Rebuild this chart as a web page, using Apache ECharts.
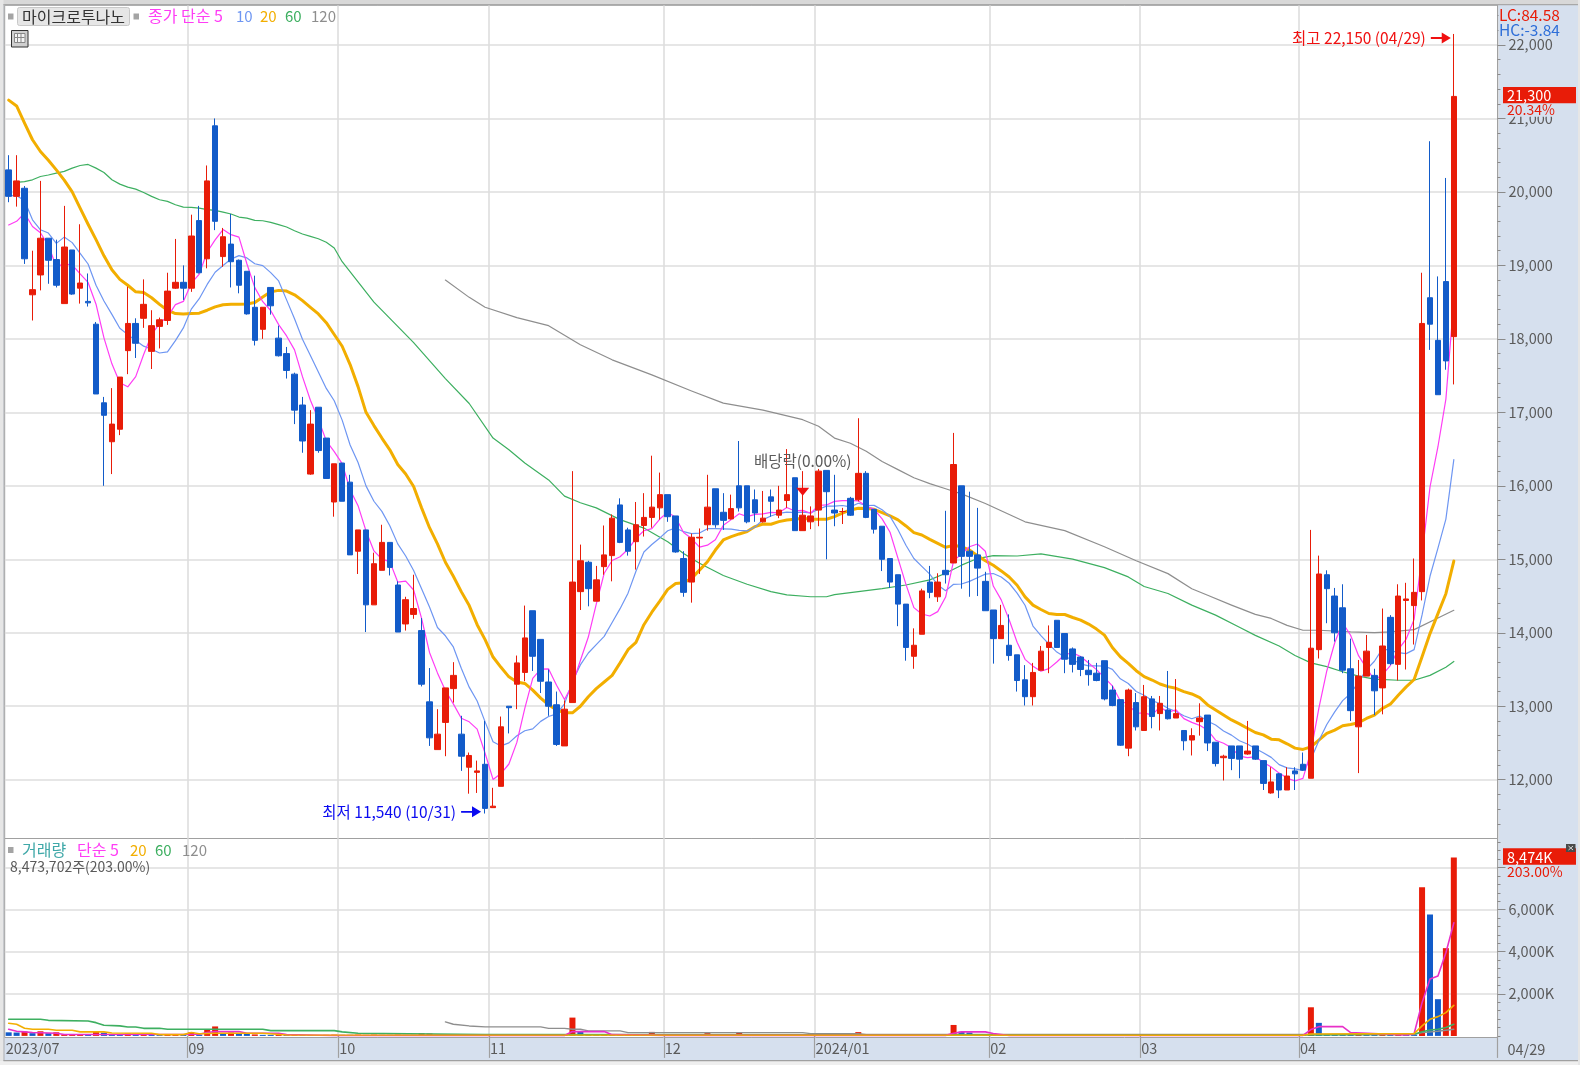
<!DOCTYPE html>
<html><head><meta charset="utf-8">
<style>html,body{margin:0;padding:0;background:#fff}#c{width:1580px;height:1065px}</style>
<script src="https://cdn.jsdelivr.net/npm/echarts@6/dist/echarts.min.js"></script>
</head><body><div id="c"></div>
<script>
const opens=[20300,19940,20050,18600,18870,19370,19080,18480,19210,18690,18510,18200,17130,16600,16770,17840,18210,18280,17830,18170,18250,18690,18770,18690,19610,19090,20900,19120,19290,19070,18920,18430,18130,18700,18010,17800,17520,17100,16160,17070,16650,15780,16310,16050,15110,15400,14380,14850,15230,14650,14120,14250,14030,13060,12410,12780,13240,12620,12170,12100,12210,11620,11910,13000,13300,13460,14300,13910,13330,13020,12460,13050,14560,14960,14430,14900,15050,15740,15400,15240,15460,15570,15700,15880,15590,15010,14690,15290,15470,15960,15640,15550,16000,16000,15810,15510,15850,15600,15800,16110,15390,15510,15670,16210,15670,15650,15830,15810,16170,15680,15450,15010,14790,14390,13680,13980,14690,14490,14850,14950,16000,15110,15060,14700,14310,13920,13830,13700,13360,13130,13490,13800,14170,13990,13780,13670,13490,13450,13620,13220,13090,12430,13050,12670,13100,12900,12950,12840,12670,12540,12790,12880,12510,12300,12460,12460,12350,12460,12260,11820,12080,11860,12120,12210,12020,13770,14790,14500,14340,13510,12720,13410,13420,13250,14210,13570,14440,14370,14560,18560,17980,18780,18030];
const closes=[19940,20150,19090,18670,19370,19070,18730,19250,18610,18760,18490,17250,16960,16840,17480,18210,17940,18470,18180,18260,18650,18770,18690,19400,18900,20150,19600,19390,19050,18730,18340,17980,18430,18450,17770,17570,17030,16610,16840,16480,16100,16300,15790,15060,15400,14380,14940,15230,14890,14010,14450,14330,13300,12570,12620,13250,13420,12320,12330,12120,11610,11640,12720,12980,13590,13930,13680,13340,13000,12480,12960,14690,14980,14600,14720,15060,15560,15230,15110,15470,15570,15710,15880,15580,15100,14550,15300,15300,15710,15470,15530,15690,15700,15510,15630,15560,15790,15670,15880,15390,15600,15590,16200,15920,15630,15650,15600,16170,15570,15410,15000,14690,14390,13800,13830,14570,14550,14690,14790,16290,15040,15040,14880,14300,13920,14100,13690,13350,13130,13460,13750,13870,13800,13640,13570,13500,13430,13350,13100,13010,12470,13220,12720,13130,12860,13040,12830,12900,12530,12600,12840,12500,12220,12320,12290,12280,12390,12280,11950,11970,11860,12050,12080,12130,13790,14800,14600,14000,13490,12940,13410,13750,13210,13820,13580,14500,14460,14550,18210,18200,17240,17700,21300];
const lows=[19860,19800,19020,18250,18660,18750,18700,18480,18600,18480,18440,17250,16000,16160,16690,17520,17740,18150,17590,17870,18190,18680,18530,18640,18890,18960,19480,18980,18700,18620,18330,17910,18000,18330,17760,17460,16840,16450,16150,16450,16100,15580,15790,15060,14800,14010,14380,14850,14780,14010,14030,14190,13270,12460,12410,12320,13050,12120,11810,11820,11540,11620,11910,12630,12960,13340,13480,13180,12870,12460,12460,13050,14310,14360,14430,14790,14700,15220,15050,14860,15310,15430,15540,15510,15090,14490,14410,14800,15390,15430,15400,15540,15650,15490,15510,15500,15580,15560,15700,15390,15390,15410,15450,15000,15450,15480,15590,15790,15560,15350,14840,14610,14090,13620,13510,13980,14470,14420,14670,14950,14600,14490,14500,14300,13580,13920,13620,13200,13010,13010,13490,13450,13800,13450,13460,13410,13280,13340,13080,13000,12460,12320,12670,12670,12700,12670,12820,12840,12400,12330,12600,12390,12180,11990,12130,12020,12340,12270,11860,11810,11750,11860,11860,12120,12020,13650,14130,13880,13450,12800,12090,13410,12880,12890,13560,13350,13500,13840,14440,17850,17240,17580,17380];
const highs=[20500,20500,20080,19200,20150,19370,19350,19810,19210,19560,18890,18230,17210,17330,17480,18710,18280,18810,18390,18290,18900,19360,19000,19690,19810,20360,21000,19510,19700,19080,18920,18860,18430,18700,18180,17890,17540,17210,17030,17070,16650,16300,16310,16150,15400,15400,15090,15470,15230,14700,14490,14790,14200,13520,12960,13250,13600,12870,12370,12260,12800,11890,12860,13000,13690,14370,14300,13910,13500,13200,13080,16200,15200,14980,14910,15460,15610,15830,15430,15780,15900,16410,16180,15880,15590,15110,15350,15420,16150,15960,15900,15880,16610,16000,15950,15930,15950,16000,16500,16110,16200,15720,16230,16210,16150,15700,15850,16920,16200,15680,15450,15010,14790,14390,14060,14600,14910,14810,15660,16720,16000,15920,15700,14830,14310,14380,14250,13700,13560,13590,13820,14100,14170,13990,13800,13680,13630,13590,13620,13280,13090,13240,13180,13290,13140,13140,13480,13370,12670,12700,13040,12880,12510,12340,12460,12460,12800,12460,12260,12170,12090,12170,12170,12370,15400,15050,14850,14610,14660,13920,13630,13970,13510,14330,14240,14660,14680,15010,18900,20690,18850,20190,22150];

const ma5=[19550,19600,19710,19530,19444,19270,18986,19018,19006,18884,18768,18472,18014,17660,17404,17348,17486,17788,18056,18212,18300,18466,18510,18754,18882,19182,19348,19488,19418,19384,19022,18698,18506,18386,18194,18040,17850,17486,17164,16906,16612,16466,16302,15946,15730,15386,15114,15002,14968,14690,14704,14582,14196,13732,13454,13214,13032,12836,12788,12688,12360,12004,12084,12214,12508,12972,13380,13504,13508,13286,13092,13294,13622,13942,14390,14810,14984,15034,15136,15286,15388,15418,15548,15642,15568,15364,15282,15166,15192,15266,15462,15540,15620,15580,15612,15618,15638,15632,15706,15658,15666,15626,15732,15740,15788,15798,15800,15794,15724,15680,15550,15368,15012,14658,14342,14256,14228,14288,14486,14978,15072,15170,15208,15110,14636,14448,14178,13872,13638,13546,13476,13512,13602,13704,13726,13676,13588,13498,13390,13278,13072,13030,12904,12910,12880,12994,12916,12952,12832,12780,12740,12674,12538,12496,12434,12322,12300,12312,12238,12174,12090,12022,11982,12018,12382,12970,13480,13864,14136,13966,13688,13518,13360,13426,13554,13772,13914,14182,15060,15984,16532,17180,18530];
const ma10=[19950,19950,19880,19620,19485,19440,19300,19385,19310,19164,19019,18729,18516,18333,18144,18058,17979,17901,17858,17808,17824,17976,18149,18405,18547,18741,18907,18999,19086,19133,19102,19023,18997,18902,18789,18531,18274,17996,17775,17550,17326,17158,16894,16555,16318,15999,15790,15652,15457,15210,15045,14848,14599,14350,14072,13959,13807,13516,13260,13071,12787,12518,12460,12501,12598,12666,12692,12794,12861,12897,13032,13337,13563,13725,13838,13951,14139,14328,14539,14838,15099,15201,15291,15389,15427,15376,15350,15357,15417,15417,15413,15411,15393,15386,15439,15540,15589,15626,15643,15635,15642,15632,15682,15723,15723,15732,15713,15763,15732,15734,15674,15584,15403,15191,15011,14903,14798,14650,14572,14660,14664,14699,14748,14798,14807,14760,14674,14540,14374,14091,13962,13845,13737,13671,13636,13576,13550,13550,13547,13502,13374,13309,13201,13150,13079,13033,12973,12928,12871,12830,12867,12795,12745,12664,12607,12531,12487,12425,12367,12304,12206,12161,12147,12128,12278,12530,12751,12923,13077,13174,13329,13499,13612,13781,13760,13730,13716,13771,14243,14769,15152,15547,16356];
const ma20=[21250,21170,20935,20710,20550,20430,20300,20160,20000,19780,19560,19350,19130,18940,18810,18730,18640,18630,18560,18470,18390,18345,18340,18345,18350,18390,18435,18465,18470,18470,18475,18494,18570,18640,18660,18650,18600,18520,18430,18340,18220,18060,17900,17650,17350,17000,16820,16650,16490,16290,16160,15990,15700,15430,15210,14960,14770,14560,14370,14110,13907,13670,13530,13400,13330,13310,13220,13110,13020,12950,12910,12910,13000,13130,13240,13330,13420,13590,13770,13870,14110,14280,14430,14590,14671,14680,14740,14853,14967,15126,15263,15308,15345,15377,15445,15481,15477,15513,15536,15545,15559,15545,15545,15545,15581,15627,15672,15695,15690,15680,15636,15590,15536,15454,15363,15331,15272,15217,15163,15190,15172,15126,15050,14981,14918,14842,14760,14647,14489,14376,14317,14262,14249,14249,14208,14172,14118,14050,13968,13800,13674,13584,13484,13403,13357,13303,13267,13244,13199,13167,13118,13018,12950,12882,12814,12760,12701,12642,12611,12552,12543,12489,12430,12412,12448,12539,12630,12675,12734,12752,12775,12834,12879,12969,13028,13150,13264,13364,13672,13989,14260,14532,14976];
const ma60Days=[1,2,3,4,5,6,7,8,9,10,11,12,13,14,15,16,17,18,19,20,21,22,23,24,25,26,27,28,29,30,31,32,33,34,35,36,37,38,39,40,41,42,46,51,55,58,61,63,65,68,70,72,74,77,80,83,85,87,90,93,96,98,101,103,104,107,110,113,116,118,120,122,124,127,130,134,138,141,143,146,149,152,155,157,160,162,164,166,168,170,172,175,177,179,181,182];
const ma60=[20130,20140,20165,20210,20230,20256,20280,20324,20360,20374,20324,20265,20165,20106,20066,20038,19993,19939,19893,19871,19825,19794,19790,19780,19758,19749,19726,19699,19658,19644,19613,19608,19585,19554,19522,19472,19427,19395,19363,19314,19237,19050,18500,17950,17460,17120,16650,16490,16310,16080,15860,15770,15700,15540,15425,15240,15080,14945,14780,14660,14560,14515,14490,14490,14520,14560,14600,14650,14720,14810,14920,15010,15050,15045,15075,15003,14887,14760,14630,14534,14376,14240,14075,13965,13820,13690,13590,13540,13470,13410,13370,13354,13354,13420,13530,13610];
const ma120Days=[55,58,60,64,68,72,76,81,86,90,95,100,102,104,106,108,110,112,114,116,118,120,123,128,133,138,142,146,149,151,154,157,159,161,163,165,169,172,174,177,180,182];
const ma120=[18800,18565,18430,18290,18180,17920,17715,17510,17290,17125,17030,16900,16810,16650,16580,16470,16330,16220,16110,16030,15960,15890,15760,15510,15390,15170,14980,14805,14600,14510,14376,14250,14195,14100,14034,14034,14011,14002,14011,14043,14200,14306];

const volumes=[170,160,210,130,220,130,170,70,70,70,60,190,150,80,80,110,80,90,60,40,60,60,50,170,60,300,450,130,160,130,130,70,50,50,70,50,60,40,40,40,50,60,50,50,60,50,60,50,50,60,50,50,120,110,50,60,50,50,60,50,60,50,60,50,60,60,50,50,60,50,60,870,190,60,50,70,50,50,60,60,60,190,60,50,60,60,50,60,130,60,70,50,150,50,60,60,60,60,60,50,50,50,60,60,60,50,60,180,60,50,60,50,50,60,50,60,50,60,50,520,200,160,60,50,60,50,60,50,60,50,60,50,60,50,60,50,60,50,60,50,60,50,60,50,60,50,60,50,60,50,60,50,60,50,60,50,60,50,60,50,60,50,60,50,1360,620,70,60,60,60,70,60,60,70,60,70,60,60,7070,5770,1745,4170,8474];
const volDirection="BBRBRBRRRR"+"BRBBBRBRBB"+"RRBRBRRBRB"+"BRBBRBRBBB"+"RRBBRBRBBR"+"BBRRBRBBRB"+"RBRBRRBBRB"+"RRBBBRBBRR"+"RRBBRRBRRB"+"RBRBRRRRRB"+"BBRRRBRRBB"+"RBBRBRBRBR"+"BBBBRBRBRB"+"RBRBRBRBRB"+"RBRBRBRBRB"+"RBRBRBRBRB"+"RBRBRBBBBB"+"RBBRBRBBRB"+"BRR";
const volMa5Days=[0,1,2,3,6,7,24,25,26,29,30,34,35,41,70,71,75,76,83,118,119,120,123,124,125,126,163,164,165,168,169,176,177,178,179,180,181,182];
const volMa5=[316,220,190,160,125,65,80,160,205,205,125,125,60,20,20,205,205,60,25,25,130,190,190,110,63,20,20,300,440,440,158,40,100,1580,2700,2844,3950,5372];
const volMa20Days=[0,1,2,3,5,6,8,9,12,13,18,19,22,23,24,26,32,35,163,164,177,178,179,180,181,182];
const volMa20=[600,550,360,316,316,270,270,190,190,140,125,60,60,160,100,125,125,40,30,90,110,474,790,916,1106,1454];
const volMa60Days=[0,4,5,10,11,12,14,15,16,17,19,20,32,33,41,42,44,60,163,177,178,179,180,181,182];
const volMa60=[790,790,740,710,630,505,475,425,425,360,360,316,316,250,250,190,125,60,45,80,200,284,316,395,553];
const volMa120Days=[55,56,58,60,67,68,70,71,72,73,77,78,100,101,107,108,163,177,178,180,182];
const volMa120=[665,553,474,430,430,360,360,316,316,237,237,158,158,110,110,70,70,70,158,221,316];

const monthDays=[0,23,42,61,83,102,124,143,163];
const monthLabels=['2023/07','09','10','11','12','2024/01','02','03','04'];
const slots=Array.from({length:188},(_,i)=>'d'+i);
const priceMajor=[12000,13000,14000,15000,16000,17000,18000,19000,20000,21000,22000];
const priceMinor=[11400,11600,11800,12200,12400,12600,12800,13200,13400,13600,13800,14200,14400,14600,14800,15200,15400,15600,15800,16200,16400,16600,16800,17200,17400,17600,17800,18200,18400,18600,18800,19200,19400,19600,19800,20200,20400,20600,20800,21200,21400,21600,21800,22200,22400];
const volMajor=[2000,4000,6000,8000];
const volLabeled=[2000,4000,6000];
const volMinor=[0,400,800,1200,1600,2400,2800,3200,3600,4400,4800,5200,5600,6400,6800,7200,7600,8400,8800,9200];

const FONT='"Noto Sans CJK KR","Noto Sans",sans-serif';
const RED='#E81C08',BLUE='#125BC9',STRIP='#D6E0EE',GRID='#DEDEDE',TXT='#5A5A5A',EDGE='#A0A0A0';
const C5='#FF3CF5',C10='#6E96F2',C20='#F2AE00',C60='#3DAF60',C120='#8E8E8E';
const isMonth=i=>monthDays.indexOf(i)>0;
const pair=(d,v)=>d.map((x,i)=>[x,v[i]]);
const seq=v=>v.map((y,i)=>[i,y]);
const line=(name,data,color,w,g)=>({name,type:'line',data,xAxisIndex:g,yAxisIndex:g*2,showSymbol:false,symbol:'none',silent:true,lineStyle:{color,width:w,cap:'round',join:'round'},z:2});
const ARROW='path://M0 4.2 L12 4.2 L12 0 L22 5 L12 10 L12 5.8 L0 5.8 Z';

const txt=(x,y,text,fill,size)=>({type:'text',x,y,z:100,silent:true,style:{text,fill,font:`${size||15}px ${FONT}`,verticalAlign:'middle',align:'left'}});
const rect=(x,y,w,h,fill,z)=>({type:'rect',left:x,top:y,z:z==null?100:z,silent:true,shape:{width:w,height:h},style:{fill}});
const grey='#A4A4A4';

const graphics=[
 rect(0,0,1580,4,'#D8D8D8'),rect(0,4,1580,1.2,'#A8A8A8'),
 rect(0,0,3.5,1065,'#E6E6E6'),rect(3.5,4,1,1057,'#B0B0B0'),
 rect(0,1061,1580,4,'#EFEFEF'),rect(3.5,1060,1575,1.2,'#A0A0A0'),
 rect(1578,0,2,1065,'#E6E6E6'),
 // price panel header
 rect(8,13.5,5.5,6,grey),
 {type:'rect',left:17,top:7,z:100,silent:true,shape:{width:112,height:18,r:2},style:{fill:'#E6E6E6',stroke:'#C8C8C8',lineWidth:1}},
 txt(22,16.5,'마이크로투나노','#333',16),
 rect(133.5,13.5,5.5,6,grey),
 txt(148,16,'종가 단순 5',C5,16),
 txt(236,16,'10',C10,15),
 txt(260,16,'20',C20,15),
 txt(285,16,'60',C60,15),
 txt(311,16,'120',C120,15),
 {type:'rect',left:11,top:30,z:100,silent:true,shape:{width:16.5,height:16.5},style:{fill:'#CFCFCF',stroke:'#333',lineWidth:1}},
 {type:'rect',left:14,top:33,z:101,silent:true,shape:{width:10.5,height:9},style:{fill:'#F4F4F4',stroke:'#888',lineWidth:1}},
 {type:'line',z:102,silent:true,shape:{x1:17.5,y1:33,x2:17.5,y2:42},style:{stroke:'#888'}},
 {type:'line',z:102,silent:true,shape:{x1:21,y1:33,x2:21,y2:42},style:{stroke:'#888'}},
 {type:'line',z:102,silent:true,shape:{x1:14,y1:37.5,x2:24.5,y2:37.5},style:{stroke:'#888'}},
 // price axis overlays
 rect(1498.5,6,78,33,STRIP),
 txt(1499,15,'LC:84.58',RED,15.5),
 txt(1499,30,'HC:-3.84','#2F6FD8',15.5),
 rect(1503,103.3,73,13.4,STRIP),
 rect(1503,87,73,16.3,RED),
 txt(1507,95.5,'21,300','#fff',14.5),
 txt(1507,110,'20.34%',RED,14),
 // volume panel header
 rect(8,847,5.5,6,grey),
 txt(22,850,'거래량','#3FA8A8',16),
 txt(77,850,'단순 5',C5,16),
 txt(130,850,'20',C20,15),
 txt(155,850,'60',C60,15),
 txt(182,850,'120',C120,15),
 txt(10,867,'8,473,702주(203.00%)',TXT,14),
 // volume axis overlays
 rect(1503,848.3,73,16.4,RED),
 txt(1507,857,'8,474K','#fff',14.5),
 txt(1507,872,'203.00%',RED,14),
 rect(1566,844,9.5,8,'#4A4A4A'),
 {type:'line',z:101,silent:true,shape:{x1:1568.5,y1:846,x2:1573,y2:850},style:{stroke:'#DDD'}},
 {type:'line',z:101,silent:true,shape:{x1:1573,y1:846,x2:1568.5,y2:850},style:{stroke:'#DDD'}},
 txt(1507.5,1049,'04/29',TXT,14.5)
];

const option={
 animation:false,backgroundColor:STRIP,
 textStyle:{fontFamily:FONT},
 graphic:{elements:graphics},
 grid:[
  {left:4.7,width:1492.8,top:5.3,height:833.2,show:true,backgroundColor:'#fff',borderColor:EDGE,borderWidth:1,containLabel:false},
  {left:4.7,width:1492.8,top:838.5,height:199,show:true,backgroundColor:'#fff',borderColor:EDGE,borderWidth:1,containLabel:false}
 ],
 xAxis:[
  {type:'category',gridIndex:0,data:slots,boundaryGap:true,axisLine:{show:false},axisTick:{show:false,interval:isMonth},axisLabel:{show:false},
   splitLine:{show:true,interval:isMonth,lineStyle:{color:GRID,width:1.6}}},
  {type:'category',gridIndex:1,data:slots,boundaryGap:true,axisLine:{show:false},
   axisTick:{show:true,interval:isMonth,length:22,lineStyle:{color:EDGE,width:1.2}},
   axisLabel:{show:true,hideOverlap:false,showMinLabel:true,interval:i=>monthDays.indexOf(i)>=0,
     formatter:(v,i)=>{const k=monthDays.indexOf(i);return k>=0?monthLabels[k]:'';},
     align:'left',color:TXT,fontSize:14.5,fontFamily:FONT,margin:4,padding:[0,0,0,-3]},
   splitLine:{show:true,interval:isMonth,lineStyle:{color:GRID,width:1.6}}}
 ],
 yAxis:[
  {type:'value',gridIndex:0,position:'right',min:11200,max:22540,
   axisLine:{show:true,lineStyle:{color:EDGE,width:1}},
   axisTick:{show:true,customValues:priceMajor,length:8,lineStyle:{color:'#8A8A8A'}},
   axisLabel:{show:true,customValues:priceMajor,color:TXT,fontSize:14.5,fontFamily:FONT,margin:11,formatter:v=>v.toLocaleString('en-US')},
   splitLine:{show:true,lineStyle:{color:GRID,width:1.6}}},
  {type:'value',gridIndex:0,position:'right',min:11200,max:22540,
   axisLine:{show:false},axisTick:{show:true,customValues:priceMinor,length:3,lineStyle:{color:'#8A8A8A'}},
   axisLabel:{show:false},splitLine:{show:false}},
  {type:'value',gridIndex:1,position:'right',min:-76,max:9382,
   axisLine:{show:true,lineStyle:{color:EDGE,width:1}},
   axisTick:{show:true,customValues:volMajor,length:8,lineStyle:{color:'#8A8A8A'}},
   axisLabel:{show:true,customValues:volLabeled,color:TXT,fontSize:14.5,fontFamily:FONT,margin:11,formatter:v=>v.toLocaleString('en-US')+'K'},
   splitLine:{show:true,lineStyle:{color:GRID,width:1.6}}},
  {type:'value',gridIndex:1,position:'right',min:-76,max:9382,
   axisLine:{show:false},axisTick:{show:true,customValues:volMinor,length:3,lineStyle:{color:'#8A8A8A'}},
   axisLabel:{show:false},splitLine:{show:false}}
 ],
 series:[
  line('MA60',pair(ma60Days,ma60),C60,1.2,0),
  line('MA120',pair(ma120Days,ma120),C120,1.2,0),
  line('MA20',seq(ma20),C20,3,0),
  line('MA10',seq(ma10),C10,1.2,0),
  line('MA5',seq(ma5),C5,1.2,0),
  {name:'candle',type:'candlestick',xAxisIndex:0,yAxisIndex:0,barWidth:6,silent:true,z:3,
   itemStyle:{color:RED,color0:BLUE,borderColor:RED,borderColor0:BLUE,borderWidth:1},
   data:opens.map((o,i)=>[o,closes[i],lows[i],highs[i]]),
   markPoint:{silent:true,animation:false,z:10,data:[
    {coord:[182,22095],symbol:ARROW,symbolSize:[20,11],symbolOffset:[-13,0],itemStyle:{color:'#F01010'},
     label:{show:true,position:'left',distance:5,formatter:'최고 22,150 (04/29)',color:'#F01010',fontSize:15.5,fontFamily:FONT}},
    {coord:[60,11564],symbol:ARROW,symbolSize:[20,11],symbolOffset:[-14,0],itemStyle:{color:'#0A0AF0'},
     label:{show:true,position:'left',distance:5,formatter:'최저 11,540 (10/31)',color:'#0A0AF0',fontSize:15.5,fontFamily:FONT}},
    {coord:[100,15920],symbol:'triangle',symbolRotate:180,symbolSize:[13,8],itemStyle:{color:'#F01010'},
     label:{show:false}},
    {coord:[100,16335],symbol:'rect',symbolSize:[1,1],itemStyle:{color:'rgba(0,0,0,0)'},
     label:{show:true,position:'inside',formatter:'배당락(0.00%)',color:TXT,fontSize:15.5,fontFamily:FONT}}
   ]}},
  {name:'volume',type:'bar',xAxisIndex:1,yAxisIndex:2,barWidth:6,silent:true,z:2,
   data:volumes.map((v,i)=>({value:v,itemStyle:{color:volDirection[i]==='R'?RED:BLUE}}))},
  Object.assign(line('vMA120',pair(volMa120Days,volMa120),C120,1.4,1),{z:3}),
  Object.assign(line('vMA60',pair(volMa60Days,volMa60),C60,1.6,1),{z:3}),
  Object.assign(line('vMA5',pair(volMa5Days,volMa5),'#E830C8',1.6,1),{z:3}),
  Object.assign(line('vMA20',pair(volMa20Days,volMa20),C20,1.6,1),{z:3})
 ]
};
const chart=echarts.init(document.getElementById('c'),null,{width:1580,height:1065,renderer:'canvas'});
chart.setOption(option);
</script></body></html>
